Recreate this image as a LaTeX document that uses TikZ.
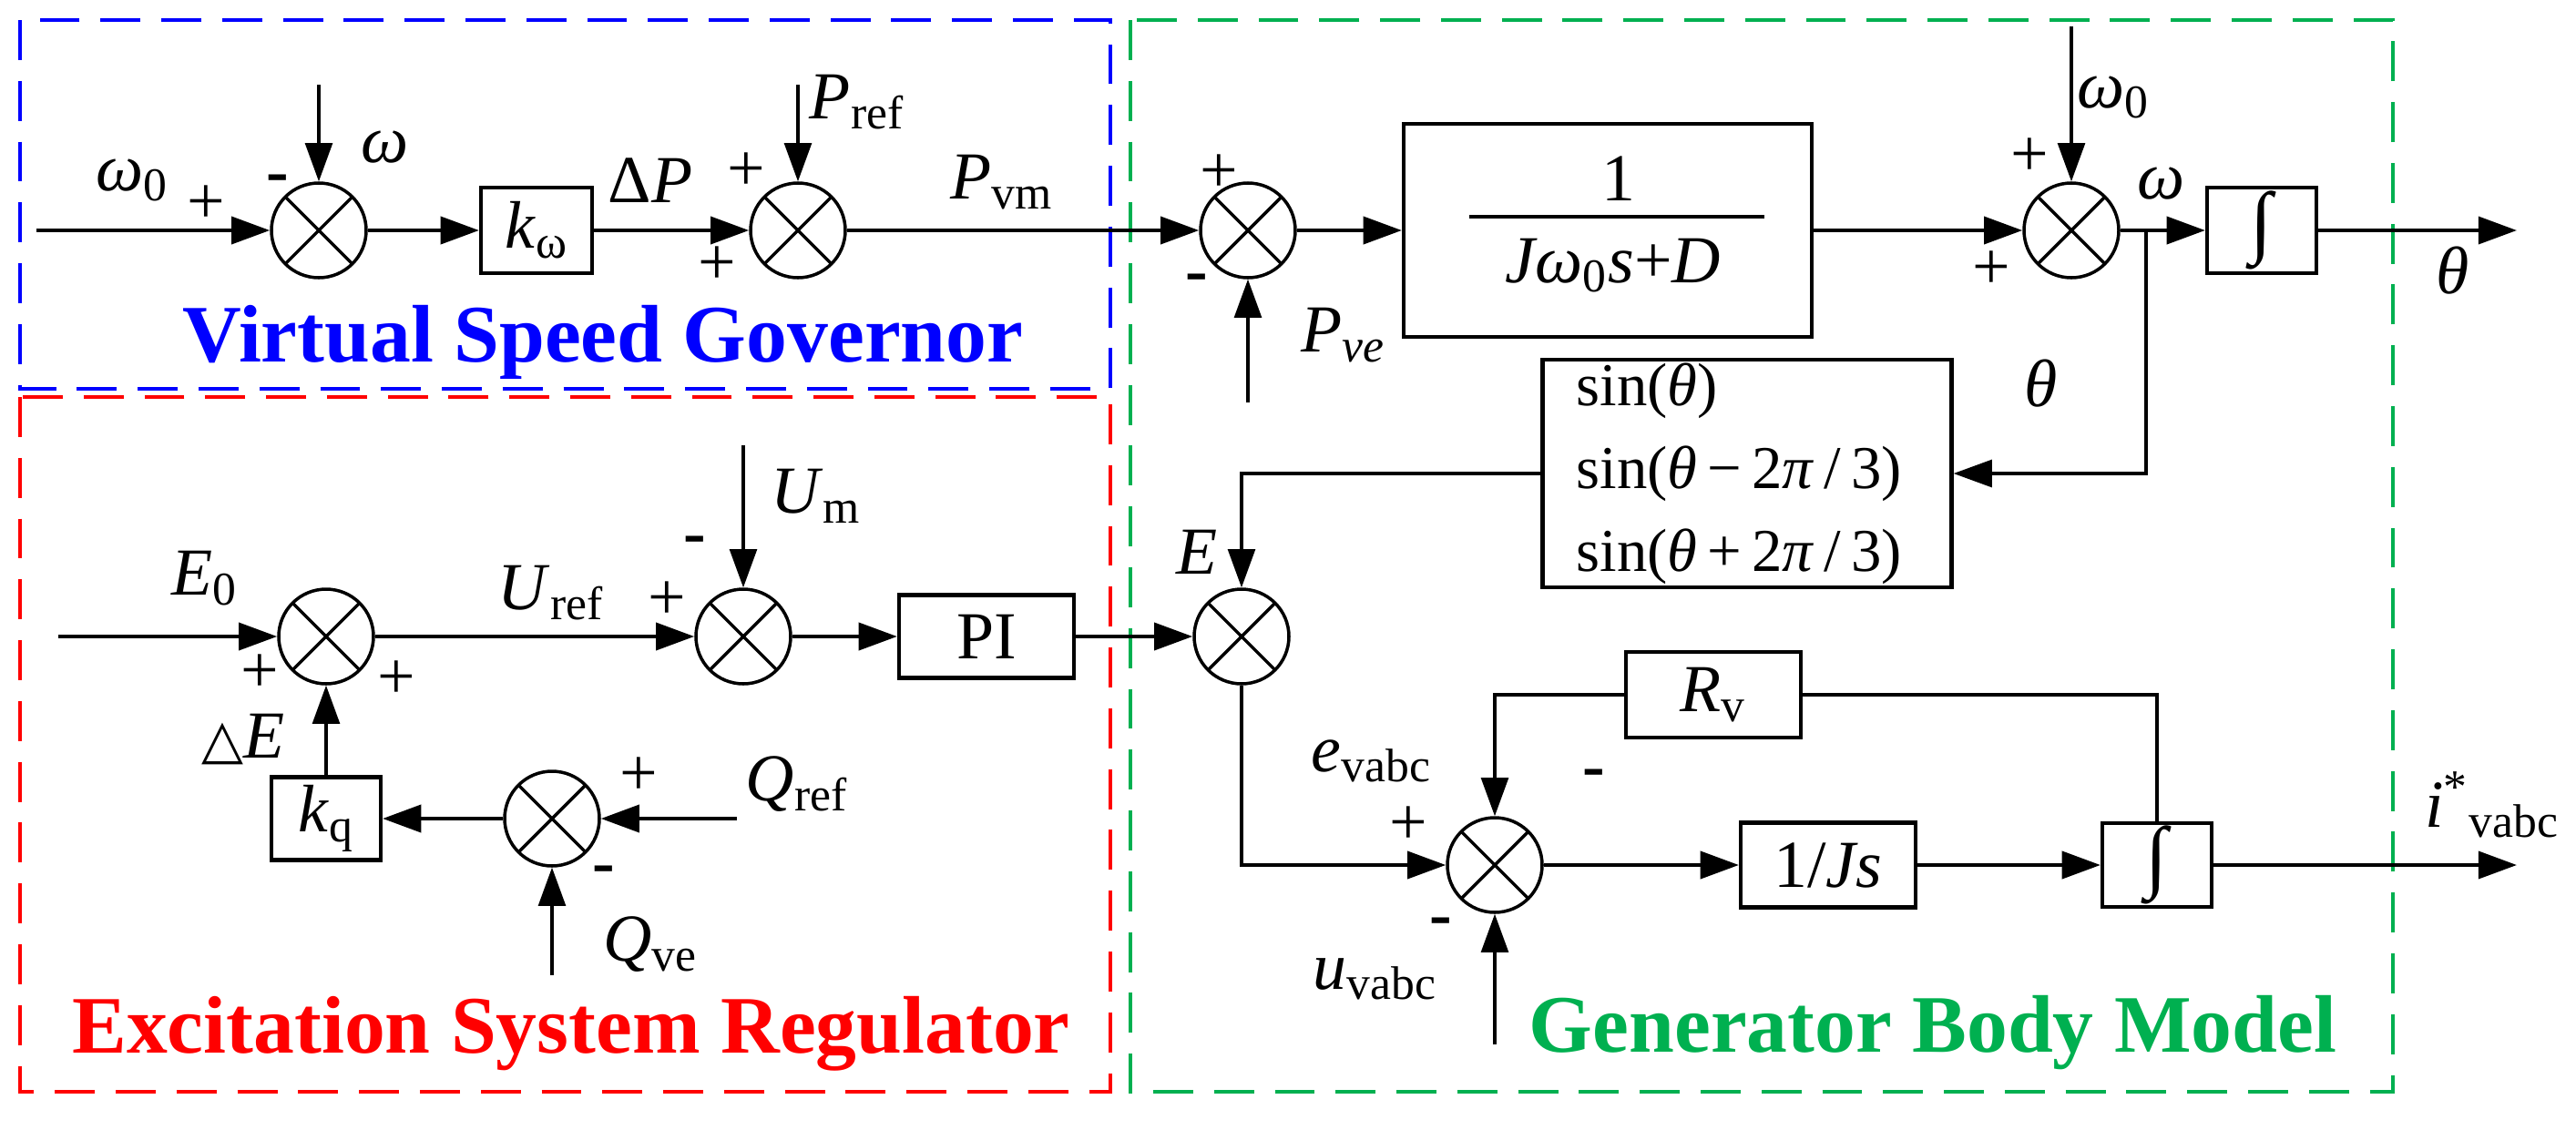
\documentclass[tikz,border=0pt]{standalone}
\usepackage{fontspec}
\setmainfont{Liberation Serif}
\newfontfamily\trifont{DejaVu Sans}
\usetikzlibrary{arrows.meta}
\definecolor{govblue}{RGB}{0,0,255}
\definecolor{excred}{RGB}{255,0,0}
\definecolor{gengreen}{RGB}{0,176,80}
\newcommand\lblfont{\fontsize{21}{25}\selectfont}
\newcommand\ttlfont{\fontsize{25.5}{30}\selectfont\bfseries}
\tikzset{
  sumnode/.style={draw,circle,line width=1pt,minimum size=1.04cm,inner sep=0pt,
    path picture={\draw[line width=1pt] (path picture bounding box.south west) -- (path picture bounding box.north east)
      (path picture bounding box.north west) -- (path picture bounding box.south east);}},
  blk/.style={draw,line width=1.2pt,inner sep=0pt,font=\lblfont},
  lbl/.style={font=\lblfont,inner sep=0pt},
  sgn/.style={font=\lblfont,inner sep=0pt},
  sig/.style={->,line width=1.2pt},
  vsig/.style={->,line width=0.9pt},
  frame/.style={line width=1.4pt,dash pattern=on 12.5pt off 6.5pt},
  ttl/.style={font=\ttlfont,anchor=base,inner sep=0pt}
}
\begin{document}
\begin{tikzpicture}[>={Triangle[length=12pt,width=8.5pt]}]
\useasboundingbox (0,0) rectangle (28.28,-12.41);
% frames
\draw[frame,govblue] (0.22,-0.22) rectangle (12.19,-4.27);
\draw[frame,excred] (0.22,-4.36) rectangle (12.19,-11.99);
\draw[frame,gengreen] (12.41,-0.22) rectangle (26.27,-11.99);
\node[ttl,govblue] (tgov) at (6.62,-3.97) {Virtual Speed Governor};
\node[ttl,excred] (texc) at (6.27,-11.56) {Excitation System Regulator};
\node[ttl,gengreen] (tgen) at (21.22,-11.55) {Generator Body Model};
%
\coordinate (in1) at (0.40,-2.53);
\node[sumnode] (sw) at (3.50,-2.53) {};
\node[blk,minimum width=1.22cm,minimum height=0.94cm] (kw) at (5.89,-2.53) {\textit{k}\textsubscript{ω}};
\node[sumnode] (sp) at (8.76,-2.53) {};
\node[sumnode] (spe) at (13.70,-2.53) {};
\node[blk,minimum width=4.48cm,minimum height=2.34cm] (tf) at (17.65,-2.53) {};
\node[lbl,anchor=base] (tfnum) at (17.77,-2.20) {1};
\draw[line width=1.2pt] (16.13,-2.38) -- (19.37,-2.38);
\node[lbl,anchor=base] (tfden) at (17.71,-3.10) {\textit{Jω}\textsubscript{0}\textit{s}+\textit{D}};
\node[sumnode] (sw0) at (22.74,-2.53) {};
\node[blk,minimum width=1.2cm,minimum height=0.94cm,font=\fontsize{25}{28}\selectfont] (int1) at (24.83,-2.53) {∫};
\coordinate (out1) at (27.63,-2.53);
\coordinate (wtop) at (3.50,-0.93);
\coordinate (preftop) at (8.76,-0.93);
\coordinate (pvebot) at (13.70,-4.42);
\coordinate (w0top) at (22.74,-0.29);
\coordinate (fb) at (23.56,-2.53);
\node[blk,minimum width=4.49cm,minimum height=2.5cm,text width=3.75cm,inner xsep=0.37cm,align=left,
  font=\fontsize{19}{25.9}\selectfont] (sinbox) at (19.18,-5.20)
  {\mbox{sin(\textit{θ})}\\\mbox{sin(\textit{θ}\,−\,2\textit{π}\,/\,3)}\\\mbox{sin(\textit{θ}\,+\,2\textit{π}\,/\,3)}};
%
\coordinate (in2) at (0.64,-6.99);
\node[sumnode] (sE0) at (3.58,-6.99) {};
\node[sumnode] (su) at (8.16,-6.99) {};
\node[blk,minimum width=1.92cm,minimum height=0.91cm] (pi) at (10.83,-6.99) {PI};
\node[sumnode] (mE) at (13.63,-6.99) {};
\coordinate (umtop) at (8.16,-4.89);
\node[blk,minimum width=1.2cm,minimum height=0.91cm] (kq) at (3.58,-8.99) {\textit{k}\textsubscript{q}};
\node[sumnode] (sq) at (6.06,-8.99) {};
\coordinate (qref) at (8.09,-8.99);
\coordinate (qvebot) at (6.06,-10.71);
%
\node[sumnode] (se) at (16.41,-9.50) {};
\node[blk,minimum width=1.92cm,minimum height=0.93cm] (js) at (20.07,-9.50) {1/\textit{Js}};
\node[blk,minimum width=1.2cm,minimum height=0.92cm,font=\fontsize{25}{28}\selectfont] (int2) at (23.68,-9.50) {∫};
\coordinate (out2) at (27.63,-9.50);
\coordinate (uvbot) at (16.41,-11.47);
\node[blk,minimum width=1.92cm,minimum height=0.94cm] (rv) at (18.81,-7.63) {\textit{R}\textsubscript{v}};
% labels and signs
\node[lbl] (lw0) at (1.45,-1.98) {\textit{ω}\textsubscript{0}};
\node[sgn] (p1) at (2.26,-2.25) {+};
\node[sgn] (m1) at (3.05,-2.02) {\textbf{-}};
\node[lbl] (lw) at (4.23,-1.62) {\textit{ω}};
\node[lbl] (ldp) at (7.14,-1.98) {Δ\textit{P}};
\node[sgn] (p2) at (8.19,-1.89) {+};
\node[sgn] (p3) at (7.87,-2.92) {+};
\node[lbl] (lpref) at (9.41,-1.12) {\textit{P}\textsubscript{ref}};
\node[lbl] (lpvm) at (11.00,-2.00) {\textit{P}\textsubscript{vm}};
\node[sgn] (p4) at (13.38,-1.91) {+};
\node[sgn] (m2) at (13.14,-3.11) {\textbf{-}};
\node[lbl] (lpve) at (14.75,-3.68) {\textit{P}\textsubscript{\textit{ve}}};
\node[lbl] (lw0b) at (23.20,-1.07) {\textit{ω}\textsubscript{0}};
\node[sgn] (p5) at (22.28,-1.73) {+};
\node[sgn] (p6) at (21.86,-2.97) {+};
\node[lbl] (lwb) at (23.73,-2.02) {\textit{ω}};
\node[lbl] (lth) at (26.93,-2.97) {\textit{θ}};
\node[lbl] (lthb) at (22.41,-4.21) {\textit{θ}};
\node[lbl] (lE) at (13.14,-6.06) {\textit{E}};
\node[lbl] (lE0) at (2.25,-6.35) {\textit{E}\textsubscript{0}};
\node[sgn] (p7) at (2.85,-7.40) {+};
\node[sgn] (p8) at (4.35,-7.47) {+};
\node[lbl] (ldE) at (2.67,-8.12) {{\trifont\fontsize{17}{20}\selectfont △}\textit{E}};
\node[lbl] (luref) at (6.05,-6.51) {\textit{U}\textsubscript{ref}};
\node[sgn] (p9) at (7.32,-6.60) {+};
\node[sgn] (m3) at (7.63,-5.99) {\textbf{-}};
\node[lbl] (lum) at (8.96,-5.45) {\textit{U}\textsubscript{m}};
\node[lbl] (lqref) at (8.75,-8.61) {\textit{Q}\textsubscript{ref}};
\node[sgn] (p10) at (7.01,-8.53) {+};
\node[sgn] (m4) at (6.63,-9.61) {\textbf{-}};
\node[lbl] (lqve) at (7.14,-10.37) {\textit{Q}\textsubscript{ve}};
\node[lbl] (lev) at (15.06,-8.36) {\textit{e}\textsubscript{vabc}};
\node[sgn] (p11) at (15.46,-9.07) {+};
\node[sgn] (m5) at (15.82,-10.18) {\textbf{-}};
\node[sgn] (m6) at (17.50,-8.55) {\textbf{-}};
\node[lbl] (luv) at (15.10,-10.75) {\textit{u}\textsubscript{vabc}};
\node[lbl] (li) at (27.36,-8.84) {\textit{i}\textsuperscript{*}\textsubscript{vabc}};
% connectors
\draw[sig] (in1) -- (sw);
\draw[vsig] (wtop) -- (sw);
\draw[sig] (sw) -- (kw);
\draw[sig] (kw) -- (sp);
\draw[vsig] (preftop) -- (sp);
\draw[sig] (sp) -- (spe);
\draw[vsig] (pvebot) -- (spe);
\draw[sig] (spe) -- (tf);
\draw[sig] (tf) -- (sw0);
\draw[vsig] (w0top) -- (sw0);
\draw[sig] (sw0) -- (int1);
\draw[sig] (int1) -- (out1);
\draw[vsig] (fb) |- (sinbox.east);
\draw[vsig] (sinbox.west) -| (mE);
\draw[sig] (in2) -- (sE0);
\draw[sig] (sE0) -- (su);
\draw[vsig] (umtop) -- (su);
\draw[sig] (su) -- (pi);
\draw[sig] (pi) -- (mE);
\draw[vsig] (kq) -- (sE0);
\draw[sig] (sq) -- (kq);
\draw[sig] (qref) -- (sq);
\draw[vsig] (qvebot) -- (sq);
\draw[sig] (mE) |- (se);
\draw[vsig] (uvbot) -- (se);
\draw[sig] (se) -- (js);
\draw[sig] (js) -- (int2);
\draw[sig] (int2) -- (out2);
\draw[line width=0.9pt] (int2.north) |- (rv.east);
\draw[vsig] (rv.west) -| (se);
\end{tikzpicture}
\end{document}
